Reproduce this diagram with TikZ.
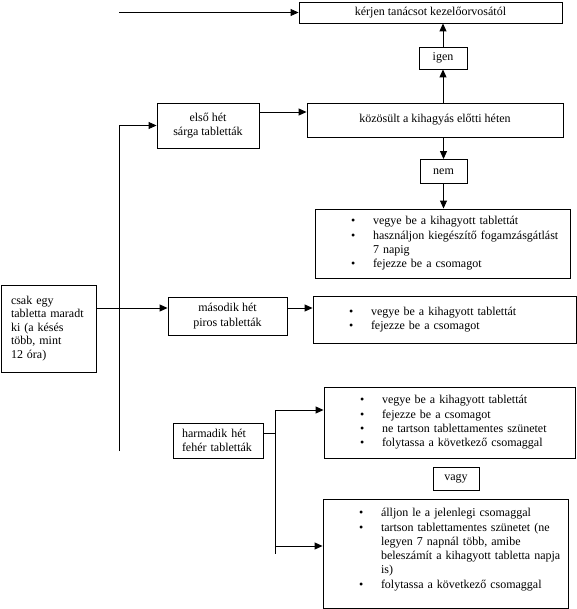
\documentclass[tikz,border=0pt]{standalone}
\usepackage{fontspec}
\setmainfont{Liberation Serif}
\usetikzlibrary{arrows.meta}
\newcommand\mybul[1]{\hspace*{36bp}\makebox[22bp][l]{\textbullet}#1}
\newcommand\mycont[1]{\hspace*{58bp}#1}
\begin{document}
\begin{tikzpicture}[x=1bp,y=-1bp,
  box/.style={draw=black, line width=0.9bp, inner sep=0pt,
    font=\fontsize{12bp}{14.3bp}\selectfont},
  cbox/.style={box, align=center},
  lbox/.style={box, align=left},
  ln/.style={line width=0.9bp},
  arr/.style={ln, -{Triangle[length=8bp,width=7bp]}}]
\useasboundingbox (0,0) rectangle (577,609);

% boxes
\node[cbox, minimum width=263bp, minimum height=21bp] (top) at (430.5,12.5) {kérjen tanácsot kezelőorvosától};
\node[cbox, minimum width=48bp, minimum height=22bp] (igen) at (443,58) {igen};
\node[cbox, minimum width=102bp, minimum height=45bp] (elso) at (208,125.5) {első hét\\sárga tabletták};
\node[cbox, minimum width=256bp, minimum height=34bp] (koz) at (435,120) {közösült a kihagyás előtti héten};
\node[cbox, minimum width=47bp, minimum height=24bp] (nem) at (443.5,171.5) {nem};
\node[lbox, text width=255bp, minimum height=69bp] (b1) at (442.5,243.5)
  {\mybul{vegye be a kihagyott tablettát}\\
   \mybul{használjon kiegészítő fogamzásgátlást}\\
   \mycont{7 napig}\\
   \mybul{fejezze be a csomagot}};
\node[lbox, inner xsep=10bp, text width=75bp, minimum height=87bp,
  font=\fontsize{12bp}{13.5bp}\selectfont] (csak) at (48.5,328.5)
  {csak egy\\tabletta maradt\\ki (a késés\\több, mint\\12 óra)};
\node[cbox, minimum width=119bp, minimum height=38bp] (masodik) at (227.5,316) {második hét\\piros tabletták};
\node[lbox, text width=263bp, minimum height=47bp] (b2) at (444.5,319.5)
  {\mybul{vegye be a kihagyott tablettát}\\
   \mybul{fejezze be a csomagot}};
\node[lbox, inner xsep=9bp, text width=72bp, minimum height=35bp] (harm) at (218,440.5)
  {harmadik hét\\fehér tabletták};
\node[lbox, text width=251bp, minimum height=71bp] (bA) at (449.5,422.5)
  {\mybul{vegye be a kihagyott tablettát}\\
   \mybul{fejezze be a csomagot}\\
   \mybul{ne tartson tablettamentes szünetet}\\
   \mybul{folytassa a következő csomaggal}};
\node[cbox, minimum width=46bp, minimum height=23bp] (vagy) at (456,478.5) {vagy};
\node[lbox, text width=245bp, minimum height=109bp] (bB) at (445.5,553.5)
  {\mybul{álljon le a jelenlegi csomaggal}\\
   \mybul{tartson tablettamentes szünetet (ne}\\
   \mycont{legyen 7 napnál több, amibe}\\
   \mycont{beleszámít a kihagyott tabletta napja}\\
   \mycont{is)}\\
   \mybul{folytassa a következő csomaggal}\\[-4bp]\mbox{}};

% connectors
\coordinate (s0) at (119,12.5);
\draw[arr] (s0) -- (top.west);
\draw[arr] (igen |- koz.north) -- (igen.south);
\draw[arr] (igen.north) -- (igen |- top.south);
\coordinate (v1) at (119,451);
\draw[arr] (v1) |- (elso.west);
\draw[arr] ([yshift=13.5bp]elso.east) -- ([yshift=13.5bp]elso.east -| koz.west);
\draw[arr] (nem |- koz.south) -- (nem.north);
\draw[arr] (nem.south) -- (nem |- b1.north);
\draw[arr] ([yshift=8bp]masodik.west -| csak.east) -- ([yshift=8bp]masodik.west);
\draw[arr] ([yshift=8bp]masodik.east) -- ([yshift=8bp]masodik.east -| b2.west);
\coordinate (h1) at (275.5,410);
\coordinate (h2) at (275.5,554);
\coordinate (h3) at (275.5,546);
\draw[ln] ([yshift=7.5bp]harm.east) -- ([yshift=7.5bp]harm.east -| h1);
\draw[ln] (h1) -- (h2);
\draw[arr] (h1) -- (h1 -| bA.west);
\draw[arr] (h3) -- (h3 -| bB.west);
\end{tikzpicture}
\end{document}
